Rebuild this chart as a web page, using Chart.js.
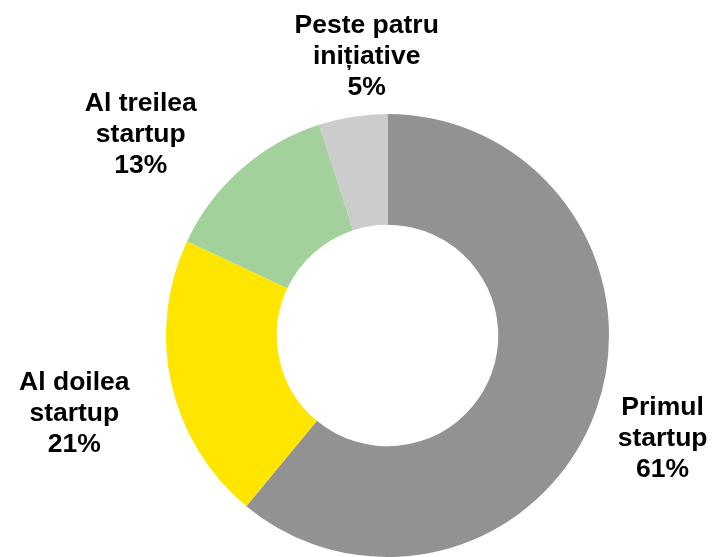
<!DOCTYPE html>
<html>
<head>
<meta charset="utf-8">
<script src="https://cdn.jsdelivr.net/npm/chart.js@4"></script>
<style>
    html, body { margin: 0; padding: 0; background: #fff; overflow: hidden; }
    #wrap { width: 713px; height: 557px; position: relative; }
</style>
</head>
<body>
<div id="wrap"><canvas id="startupChart"></canvas></div>
<script>
// Chart data
const categories = ['Primul startup', 'Al doilea startup', 'Al treilea startup', 'Peste patru inițiative'];
const shares = [61, 21, 13, 5];
const sliceColors = ['#929292', '#FFE600', '#A3D19C', '#CCCCCC'];

// Where each label block sits, relative to the ring centre, in units of the outer radius
const labelOffsets = [
    [1.242, 0.454],
    [-1.414, 0.345],
    [-1.114, -0.917],
    [-0.094, -1.268]
];

// Draw "name / value%" labels outside the ring
const outsideLabels = {
    id: 'outsideLabels',
    afterDraw(chart) {
        const ctx = chart.ctx;
        const arcs = chart.getDatasetMeta(0).data;
        const cx = arcs[0].x;
        const cy = arcs[0].y;
        const r = arcs[0].outerRadius;
        const fontSize = 26.5;
        const lineHeight = 31;

        ctx.save();
        ctx.fillStyle = '#000';
        ctx.font = 'bold ' + fontSize + 'px "Liberation Sans", Arial, sans-serif';
        ctx.textAlign = 'center';
        ctx.textBaseline = 'alphabetic';

        categories.forEach((name, i) => {
            const cut = name.lastIndexOf(' ');
            const lines = [name.slice(0, cut), name.slice(cut + 1), shares[i] + '%'];
            const x = cx + labelOffsets[i][0] * r;
            const y = cy + labelOffsets[i][1] * r;
            lines.forEach((line, j) => {
                // centre of the cap height sits on the line position
                ctx.fillText(line, x, y + (j - 1) * lineHeight + 0.358 * fontSize);
            });
        });
        ctx.restore();
    }
};

const ctx = document.getElementById('startupChart').getContext('2d');
new Chart(ctx, {
    type: 'doughnut',
    data: {
        labels: categories,
        datasets: [{
            data: shares,
            backgroundColor: sliceColors,
            borderWidth: 0
        }]
    },
    options: {
        responsive: true,
        maintainAspectRatio: false,
        animation: false,
        cutout: '50%',
        layout: {
            padding: { left: 164, right: 102, top: 114, bottom: -5 }
        },
        plugins: {
            legend: { display: false },
            tooltip: { enabled: false }
        }
    },
    plugins: [outsideLabels]
});
</script>
</body>
</html>
